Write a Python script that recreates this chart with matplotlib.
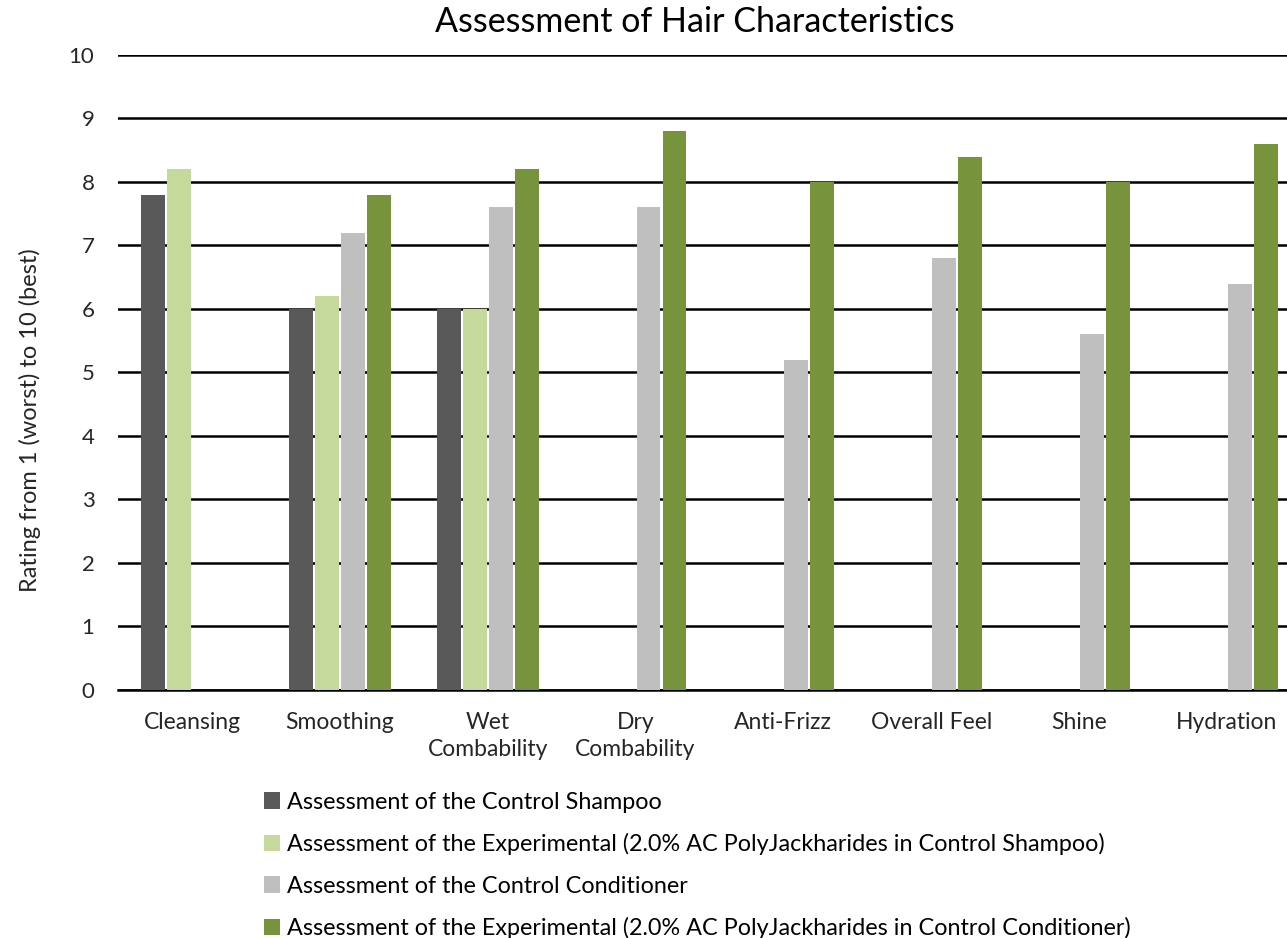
import numpy as np
import matplotlib.pyplot as plt

plt.rcParams['font.family'] = ['Lato', 'DejaVu Sans']

categories = ["Cleansing", "Smoothing", "Wet\nCombability", "Dry\nCombability",
              "Anti-Frizz", "Overall Feel", "Shine", "Hydration"]
control_shampoo = [7.8, 6.0, 6.0, np.nan, np.nan, np.nan, np.nan, np.nan]
exp_shampoo = [8.2, 6.2, 6.0, np.nan, np.nan, np.nan, np.nan, np.nan]
control_conditioner = [np.nan, 7.2, 7.6, 7.6, 5.2, 6.8, 5.6, 6.4]
exp_conditioner = [np.nan, 7.8, 8.2, 8.8, 8.0, 8.4, 8.0, 8.6]

series_names = [
    "Assessment of the Control Shampoo",
    "Assessment of the Experimental (2.0% AC PolyJackharides in Control Shampoo)",
    "Assessment of the Control Conditioner",
    "Assessment of the Experimental (2.0% AC PolyJackharides in Control Conditioner)",
]
colors = ["#595959", "#C5D99B", "#BFBFBF", "#77933C"]

fig = plt.figure(figsize=(12.87, 9.38), dpi=100)
ax = fig.add_axes([0.0917, 0.2644, 0.919, 0.677])

x = np.arange(len(categories))
offsets = [-0.264, -0.088, 0.088, 0.264]
width = 0.162
for vals, name, c, off in zip([control_shampoo, exp_shampoo, control_conditioner, exp_conditioner],
                              series_names, colors, offsets):
    ax.bar(x + off, vals, width, color=c, label=name, zorder=3)

ax.set_xlim(-0.5, len(categories) - 0.5)
ax.set_ylim(0, 10)
ax.set_yticks(range(0, 11))
ax.yaxis.grid(True, color="black", linewidth=1.8, zorder=0)
ax.set_axisbelow(True)
for s in ["top", "right", "left"]:
    ax.spines[s].set_visible(False)
ax.spines["bottom"].set_linewidth(1.8)
ax.set_xticks(x)
ax.set_xticklabels(categories, fontsize=16.5, color="#262626", linespacing=1.35)
ax.tick_params(axis="both", length=0, pad=16)
ax.tick_params(axis="y", labelsize=16, labelcolor="#262626", pad=17)
ax.set_ylabel("Rating from 1 (worst) to 10 (best)", fontsize=17, color="#262626")
ax.yaxis.set_label_coords(-0.065, 0.425)

fig.text(0.54, 0.9765, "Assessment of Hair Characteristics", ha="center", va="center", fontsize=24.5)

leg = fig.legend(loc="upper left", bbox_to_anchor=(0.198, 0.166), frameon=False,
                 fontsize=16.8, handlelength=0.7, handleheight=0.7, handletextpad=0.3,
                 labelspacing=0.88, borderaxespad=0)

fig.savefig("out.png", dpi=100)
